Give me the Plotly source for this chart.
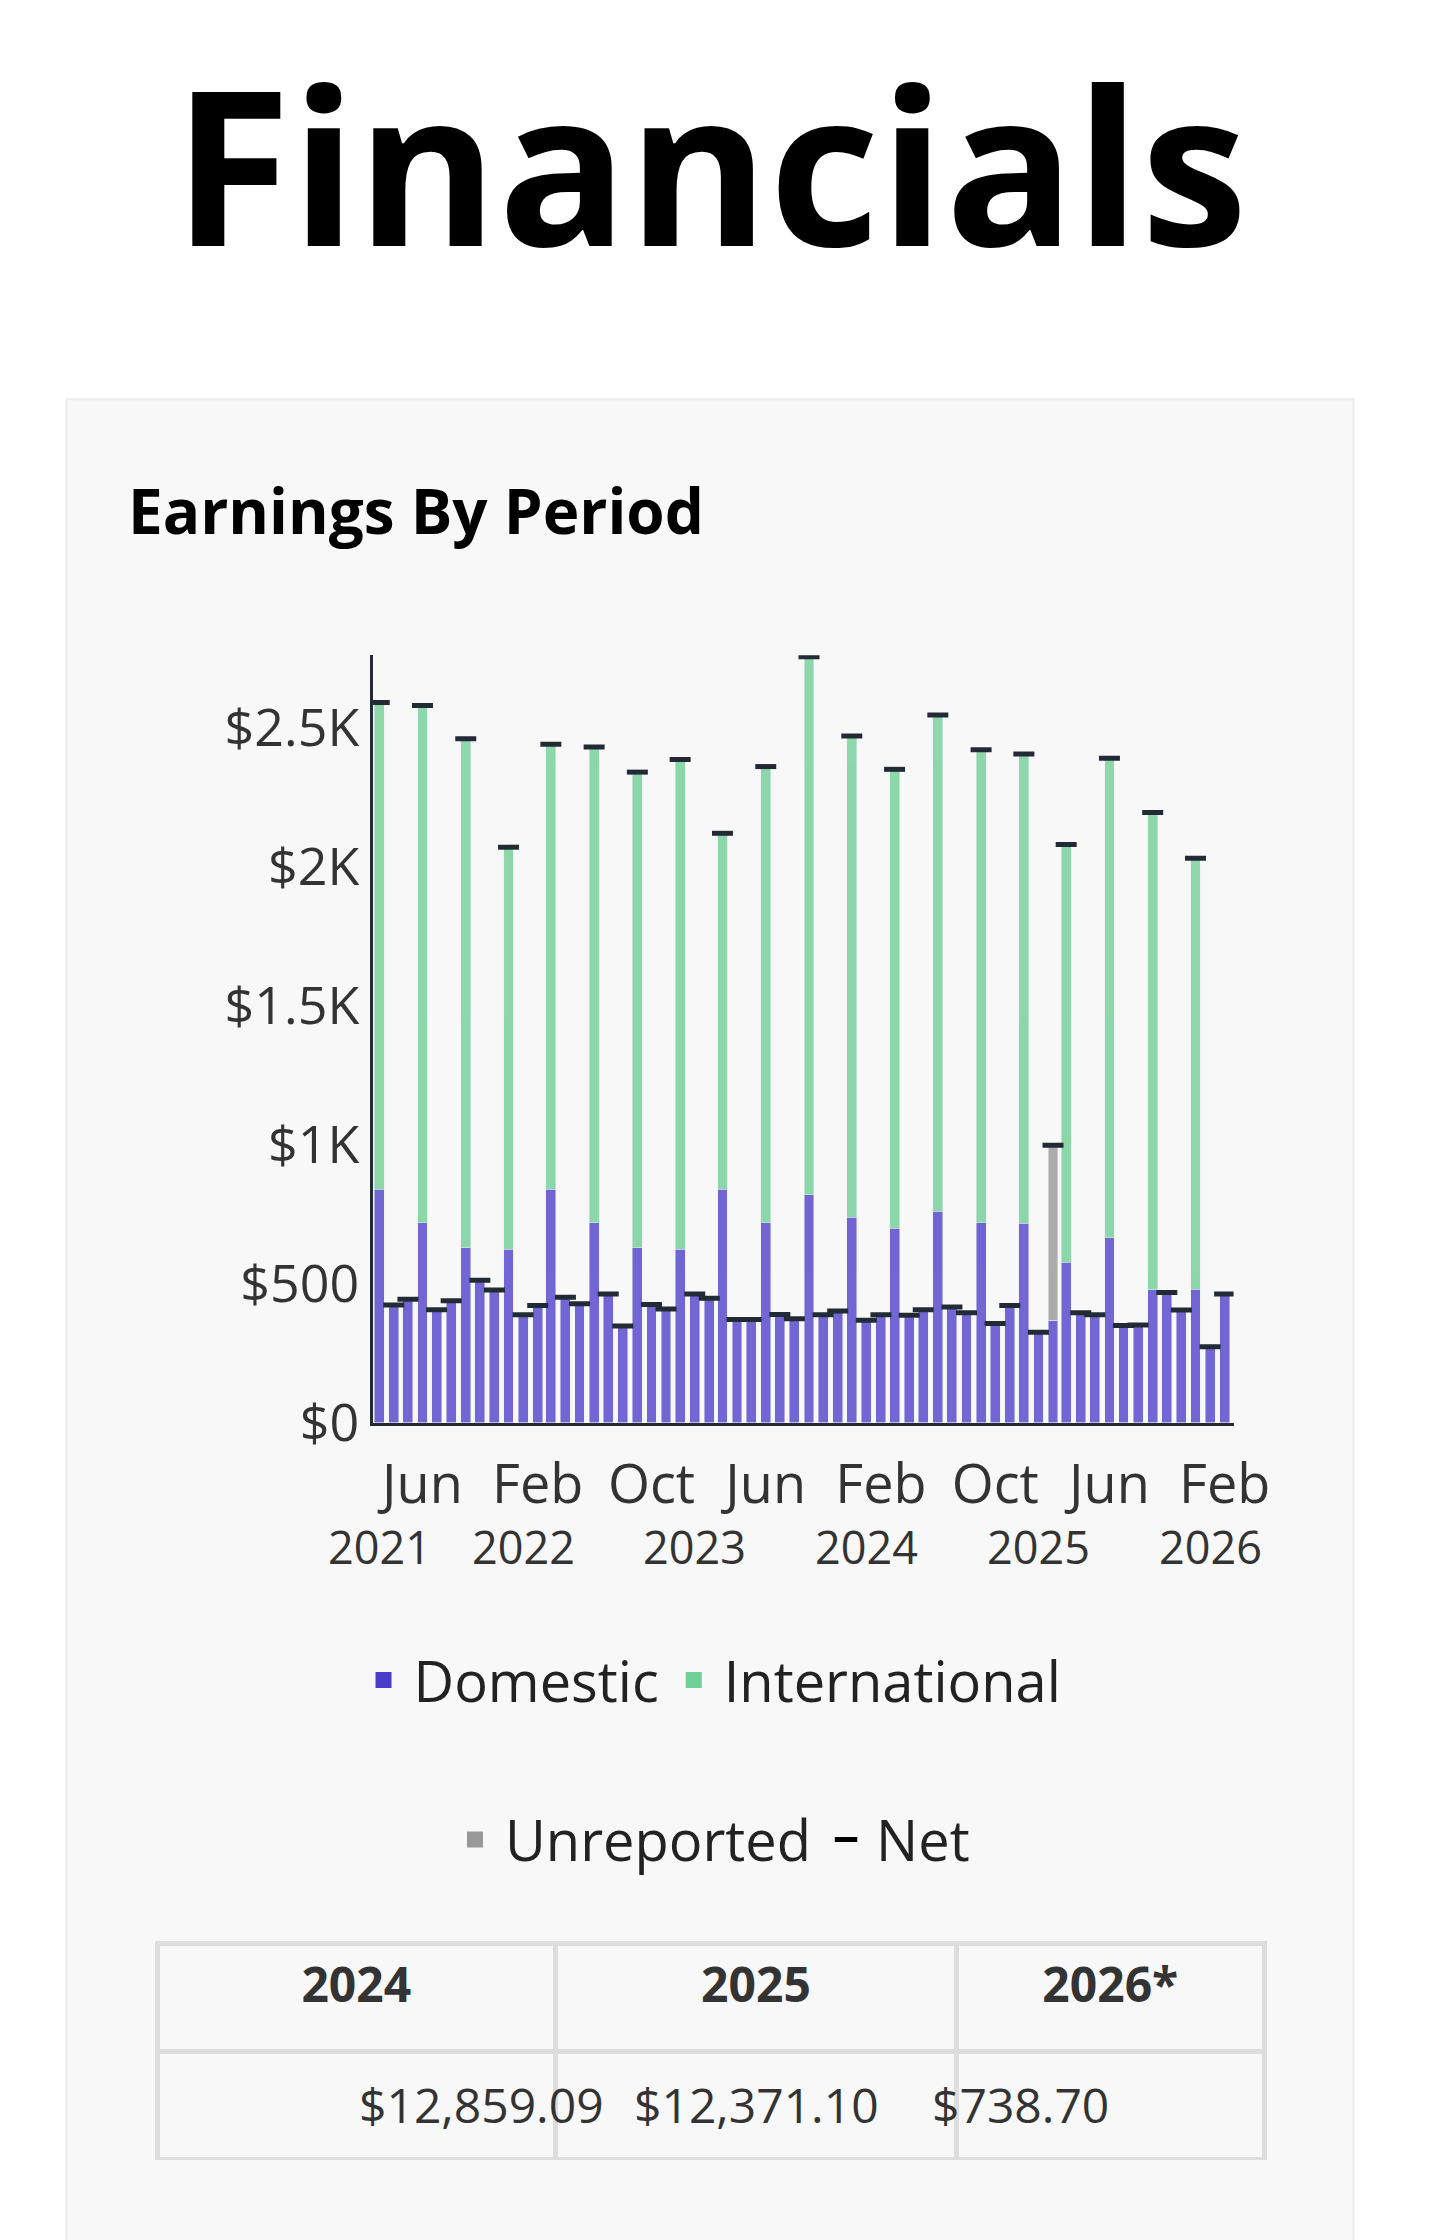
import pandas as pd
import plotly.graph_objects as go

# monthly periods, Mar 2021 .. Feb 2026
months = pd.date_range("2021-03-01", "2026-02-01", freq="MS")

domestic = [0.84, 0.424, 0.444, 0.72, 0.407, 0.439, 0.63, 0.513, 0.478, 0.624,
            0.389, 0.422, 0.84, 0.452, 0.428, 0.72, 0.463, 0.348, 0.63, 0.426,
            0.409, 0.624, 0.463, 0.448, 0.84, 0.372, 0.372, 0.72, 0.39, 0.374,
            0.82, 0.389, 0.402, 0.739, 0.369, 0.389, 0.70, 0.387, 0.407, 0.761,
            0.417, 0.396, 0.72, 0.357, 0.422, 0.717, 0.326, 0.369, 0.578, 0.396,
            0.389, 0.665, 0.35, 0.352, 0.478, 0.469, 0.406, 0.481, 0.274, 0.463]
net = [2.59, 0.424, 0.444, 2.58, 0.407, 0.439, 2.46, 0.513, 0.478, 2.07,
       0.389, 0.422, 2.44, 0.452, 0.428, 2.43, 0.463, 0.348, 2.34, 0.426,
       0.409, 2.385, 0.463, 0.448, 2.12, 0.372, 0.372, 2.36, 0.39, 0.374,
       2.755, 0.389, 0.402, 2.47, 0.369, 0.389, 2.35, 0.387, 0.407, 2.545,
       0.417, 0.396, 2.42, 0.357, 0.422, 2.405, 0.326, 0.998, 2.08, 0.396,
       0.389, 2.39, 0.35, 0.352, 2.195, 0.469, 0.406, 2.03, 0.274, 0.463]
unreported = [0.0] * 60
unreported[47] = 0.629

domestic = [v * 1000 for v in domestic]
net = [v * 1000 for v in net]
unreported = [v * 1000 for v in unreported]
international = [max(n - d - u, 0) for n, d, u in zip(net, domestic, unreported)]

tick_dates = ["2021-06-01", "2022-02-01", "2022-10-01", "2023-06-01",
              "2024-02-01", "2024-10-01", "2025-06-01", "2026-02-01"]
tick_text = ["Jun", "Feb", "Oct", "Jun", "Feb", "Oct", "Jun", "Feb"]
year_dates = ["2021-03-01", "2022-01-01", "2023-01-01", "2024-01-01", "2025-01-01", "2026-01-01"]
year_text = ["2021", "2022", "2023", "2024", "2025", "2026"]

y_ticks = [0, 500, 1000, 1500, 2000, 2500]
y_text = ["$0", "$500", "$1K", "$1.5K", "$2K", "$2.5K"]

table_years = ["2024", "2025", "2026*"]
table_totals = ["$12,859.09", "$12,371.10", "$738.70"]

W, H = 1440, 2240
FONT = "Open Sans"
DARK = "#222b35"
COL_DOM = "#4c3dc9"
COL_INT = "#72cf97"
COL_UNR = "#999999"

def py(px):
    return 1 - px / H

fig = go.Figure()
fig.add_bar(x=months, y=domestic, name="Domestic", showlegend=False,
            marker=dict(color=COL_DOM, opacity=0.78))
fig.add_bar(x=months, y=international, name="International", showlegend=False,
            marker=dict(color=COL_INT, opacity=0.8))
fig.add_bar(x=months, y=unreported, name="Unreported", showlegend=False,
            marker=dict(color=COL_UNR, opacity=0.8))
fig.add_scatter(x=months, y=net, name="Net", mode="markers", showlegend=False,
                marker=dict(symbol="line-ew", size=15, line=dict(width=5, color=DARK)))

# legend entries with bigger swatches
for name, col, lg in [("Domestic", COL_DOM, "legend"), ("International", COL_INT, "legend"),
                      ("Unreported", COL_UNR, "legend2")]:
    fig.add_scatter(x=[None], y=[None], mode="markers", name=name, legend=lg,
                    marker=dict(symbol="square", size=40, color=col))
fig.add_scatter(x=[None], y=[None], mode="markers", name="Net", legend="legend2",
                marker=dict(symbol="line-ew", size=40, line=dict(width=7, color="#000")))

# card background
fig.add_shape(type="rect", xref="paper", yref="paper", x0=60 / W, x1=1380 / W,
              y0=-0.02, y1=py(397), fillcolor="#f8f8f8", line=dict(color="#ececec", width=2),
              layer="below")

fig.add_annotation(text="<b>Financials</b>", xref="paper", yref="paper", x=0.5, y=py(157),
                   yanchor="middle", showarrow=False,
                   font=dict(family=FONT, size=215, color="#000"))
fig.add_annotation(text="<b>Earnings By Period</b>", xref="paper", yref="paper",
                   x=121 / W, y=py(510), xanchor="left", yanchor="middle", showarrow=False,
                   font=dict(family=FONT, size=62, color="#000"))
for d, t in zip(year_dates, year_text):
    fig.add_annotation(text=t, x=d, xref="x", yref="paper", y=py(1561), yanchor="middle",
                       showarrow=False, font=dict(family=FONT, size=45, color="#333"))

fig.add_trace(go.Table(
    domain=dict(x=[153 / W, 1289 / W], y=[py(2185), py(1964)]),
    columnwidth=[286, 288, 221],
    header=dict(values=[f"<b>{y}</b>" for y in table_years], height=108,
                fill_color="#f8f8f8", line=dict(color="#dddddd", width=5),
                font=dict(family=FONT, size=48, color="#333")),
    cells=dict(values=[[""] for _ in table_totals], height=108,
               fill_color="#f8f8f8", line=dict(color="#dddddd", width=5),
               font=dict(family=FONT, size=48, color="#333")),
))
# cell values centred in the body row
col_edges = [153, 562, 973, 1289]
for i, v in enumerate(table_totals):
    fig.add_annotation(text=v, xref="paper", yref="paper",
                       x=(col_edges[i] + col_edges[i + 1]) / 2 / W, y=py(2128),
                       yanchor="middle", showarrow=False,
                       font=dict(family=FONT, size=48, color="#333"))

fig.update_layout(
    width=W, height=H, margin=dict(l=0, r=0, t=0, b=0),
    paper_bgcolor="white", plot_bgcolor="#f8f8f8",
    barmode="stack", bargap=0.25,
    font=dict(family=FONT, color="#333"),
    xaxis=dict(domain=[374 / W, 1257 / W], type="date",
               range=["2021-02-15", "2026-02-20"],
               tickvals=tick_dates, ticktext=tick_text, showgrid=False,
               showline=True, linecolor=DARK, linewidth=3, ticklabelstandoff=12,
               tickfont=dict(size=54, color="#333")),
    yaxis=dict(domain=[py(1436), py(657)], range=[0, 2760],
               tickvals=y_ticks, ticktext=y_text, showgrid=False, zeroline=False,
               showline=True, linecolor=DARK, linewidth=3, ticks="",
               tickfont=dict(size=52, color="#333")),
    legend=dict(orientation="h", x=0.5, xanchor="center", y=py(1697), yanchor="middle",
                traceorder="normal", font=dict(size=56, color="#222"),
                bgcolor="rgba(0,0,0,0)", itemwidth=50),
    legend2=dict(orientation="h", x=0.5, xanchor="center", y=py(1859), yanchor="middle",
                 traceorder="normal", font=dict(size=56, color="#222"),
                 bgcolor="rgba(0,0,0,0)", itemwidth=50),
)

fig.write_html("out.html")
